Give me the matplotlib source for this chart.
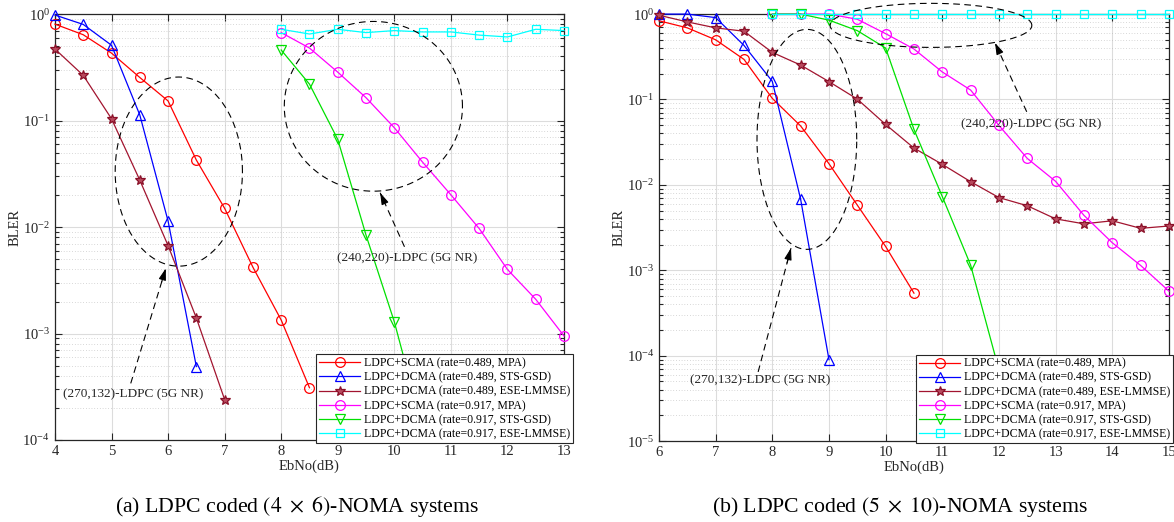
import numpy as np
import matplotlib
matplotlib.use('Agg')
import matplotlib.pyplot as plt
from matplotlib.ticker import LogLocator, NullFormatter

plt.rcParams['font.family'] = ['Liberation Serif', 'DejaVu Serif']
plt.rcParams['mathtext.fontset'] = 'stix'

labels = ['LDPC+SCMA (rate=0.489, MPA)',
          'LDPC+DCMA (rate=0.489, STS-GSD)',
          'LDPC+DCMA (rate=0.489, ESE-LMMSE)',
          'LDPC+SCMA (rate=0.917, MPA)',
          'LDPC+DCMA (rate=0.917, STS-GSD)',
          'LDPC+DCMA (rate=0.917, ESE-LMMSE)']

# (a) 4x6 system
a_x_scma1 = [4, 4.5, 5, 5.5, 6, 6.5, 7, 7.5, 8, 8.5]
a_y_scma1 = [0.805, 0.64, 0.43, 0.254, 0.153, 0.0426, 0.015, 0.0042, 0.00134, 0.00031]
a_x_sts1 = [4, 4.5, 5, 5.5, 6, 6.5]
a_y_sts1 = [0.98, 0.80, 0.51, 0.113, 0.0114, 0.00049]
a_x_ese1 = [4, 4.5, 5, 5.5, 6, 6.5, 7]
a_y_ese1 = [0.47, 0.266, 0.104, 0.0276, 0.0067, 0.0014, 0.00024]
a_x_scma2 = [8, 8.5, 9, 9.5, 10, 10.5, 11, 11.5, 12, 12.5, 13]
a_y_scma2 = [0.67, 0.48, 0.285, 0.164, 0.0857, 0.0407, 0.0201, 0.0097, 0.0040, 0.0021, 0.00095]
a_x_sts2 = [8, 8.5, 9, 9.5, 10, 10.5]
a_y_sts2 = [0.46, 0.22, 0.0666, 0.0084, 0.00129, 0.00013]
a_x_ese2 = [8, 8.5, 9, 9.5, 10, 10.5, 11, 11.5, 12, 12.5, 13]
a_y_ese2 = [0.72, 0.65, 0.72, 0.67, 0.70, 0.68, 0.68, 0.635, 0.61, 0.72, 0.70]

# (b) 5x10 system
b_x_scma1 = [6, 6.5, 7, 7.5, 8, 8.5, 9, 9.5, 10, 10.5]
b_y_scma1 = [0.835, 0.69, 0.50, 0.295, 0.103, 0.049, 0.0177, 0.0058, 0.0019, 0.00054]
b_x_sts1 = [6, 6.5, 7, 7.5, 8, 8.5, 9]
b_y_sts1 = [1.0, 1.0, 0.91, 0.43, 0.163, 0.0068, 0.00009]
b_x_ese1 = [6, 6.5, 7, 7.5, 8, 8.5, 9, 9.5, 10, 10.5, 11, 11.5, 12, 12.5, 13, 13.5, 14, 14.5, 15]
b_y_ese1 = [0.97, 0.81, 0.69, 0.63, 0.356, 0.253, 0.162, 0.101, 0.051, 0.027, 0.0174, 0.0109,
            0.0071, 0.0057, 0.0040, 0.0035, 0.0038, 0.0031, 0.0033]
b_x_scma2 = [8, 8.5, 9, 9.5, 10, 10.5, 11, 11.5, 12, 12.5, 13, 13.5, 14, 14.5, 15]
b_y_scma2 = [1.0, 1.0, 1.0, 0.87, 0.59, 0.39, 0.21, 0.129, 0.0497, 0.0204, 0.011, 0.0044,
             0.0021, 0.00114, 0.00057]
b_x_sts2 = [8, 8.5, 9, 9.5, 10, 10.5, 11, 11.5, 12]
b_y_sts2 = [1.0, 1.0, 0.85, 0.64, 0.40, 0.0446, 0.0073, 0.00115, 0.000068]
b_x_ese2 = [8, 8.5, 9, 9.5, 10, 10.5, 11, 11.5, 12, 12.5, 13, 13.5, 14, 14.5, 15]
b_y_ese2 = [1.0] * 15

styles = [dict(color='#FF0000', marker='o', mfc='none'),
          dict(color='#0000FF', marker='^', mfc='none'),
          dict(color='#A2142F', marker='*', mfc='#B84A5E', mec='#8A1028'),
          dict(color='#FF00FF', marker='o', mfc='none'),
          dict(color='#00E000', marker='v', mfc='none'),
          dict(color='#00FFFF', marker='s', mfc='none', ms=5.5)]


def ellipse(ax, cx, cly, a, b):
    t = np.linspace(0, 2 * np.pi, 300)
    ax.plot(cx + a * np.cos(t), 10 ** (cly + b * np.sin(t)), color='k', lw=0.8,
            dashes=(6, 4), clip_on=False, zorder=5)


def arrow(ax, tail, head, text, text_pos):
    tx, tly = tail
    hx, hly = head
    ax.plot([tx, hx], [10 ** tly, 10 ** hly], color='k', lw=0.8, dashes=(6, 4), zorder=5)
    nx = hx + 0.12 * (tx - hx)
    nly = hly + 0.12 * (tly - hly)
    ax.annotate('', xy=(hx, 10 ** hly), xytext=(nx, 10 ** nly),
                arrowprops=dict(arrowstyle='-|>,head_length=0.7,head_width=0.22',
                                color='k', lw=0.8, shrinkA=0, shrinkB=0), zorder=6)
    ax.text(text_pos[0], 10 ** text_pos[1], text, ha='center', va='center',
            fontsize=9.5, color='#262626', zorder=6)


def style_axes(ax, xlim, ylim, xticks):
    ax.set_yscale('log')
    ax.set_xlim(xlim)
    ax.set_ylim(ylim)
    ax.set_xticks(xticks)
    ax.yaxis.set_major_locator(LogLocator(base=10, numticks=10))
    ax.yaxis.set_minor_locator(LogLocator(base=10, subs=np.arange(2, 10), numticks=100))
    ax.yaxis.set_minor_formatter(NullFormatter())
    ax.grid(True, which='major', color='#DCDCDC', lw=0.8)
    ax.grid(True, which='minor', axis='y', color='#B4B4B4', lw=0.5, linestyle=(0, (1, 3)))
    ax.set_axisbelow(True)
    ax.tick_params(which='both', direction='in', top=True, right=True, labelsize=10.5,
                   colors='#262626', width=0.8)
    ax.tick_params(which='major', length=5)
    ax.tick_params(which='minor', length=3)
    for s in ax.spines.values():
        s.set_color('#262626')
        s.set_linewidth(0.9)
    ax.set_xlabel('EbNo(dB)', fontsize=10.5, color='#262626', labelpad=1)
    ax.set_ylabel('BLER', fontsize=10.5, color='#262626', labelpad=1)


fig = plt.figure(figsize=(11.74, 5.22), dpi=100)
ax1 = fig.add_axes([0.0468, 0.157, 0.4336, 0.816])
ax2 = fig.add_axes([0.5613, 0.155, 0.4344, 0.818])

a_data = [(a_x_scma1, a_y_scma1), (a_x_sts1, a_y_sts1), (a_x_ese1, a_y_ese1),
          (a_x_scma2, a_y_scma2), (a_x_sts2, a_y_sts2), (a_x_ese2, a_y_ese2)]
b_data = [(b_x_scma1, b_y_scma1), (b_x_sts1, b_y_sts1), (b_x_ese1, b_y_ese1),
          (b_x_scma2, b_y_scma2), (b_x_sts2, b_y_sts2), (b_x_ese2, b_y_ese2)]

for ax, data in [(ax1, a_data), (ax2, b_data)]:
    for (x, y), st, lab in zip(data, styles, labels):
        st = dict(st)
        ms = st.pop('ms', 7)
        ax.plot(x, y, lw=0.9, ms=ms, mew=0.9, label=lab, clip_on=False, zorder=3, **st)

style_axes(ax1, (4, 13), (1e-4, 1), np.arange(4, 14))
style_axes(ax2, (6, 15), (1e-5, 1), np.arange(6, 16))

ellipse(ax1, 6.19, -1.479, 1.125, 0.888)
arrow(ax1, (5.34, -3.468), (5.96, -2.388), '(270,132)-LDPC (5G NR)', (5.38, -3.57))
ellipse(ax1, 9.63, -0.866, 1.575, 0.797)
arrow(ax1, (10.18, -2.185), (9.75, -1.678), '(240,220)-LDPC (5G NR)', (10.22, -2.29))

ellipse(ax2, 8.61, -1.467, 0.88, 1.288)
arrow(ax2, (7.75, -4.19), (8.33, -2.74), '(270,132)-LDPC (5G NR)', (7.79, -4.29))
ellipse(ax2, 10.8, -0.132, 1.78, 0.258)
arrow(ax2, (12.49, -1.144), (11.93, -0.336), '(240,220)-LDPC (5G NR)', (12.56, -1.29))

for ax, anchor in [(ax1, (1.018, -0.007)), (ax2, (1.008, -0.005))]:
    leg = ax.legend(loc='lower right', bbox_to_anchor=anchor, fontsize=8.5, fancybox=False,
                    framealpha=1, edgecolor='#262626', borderpad=0.25, labelspacing=0.18,
                    handlelength=3.5, handletextpad=0.3, borderaxespad=0)
    leg.get_frame().set_linewidth(0.8)
    leg.set_zorder(10)

fig.text(0.253, 0.029, r'(a) LDPC coded $(4\ \times\ 6)$-NOMA systems', ha='center',
         va='center', fontsize=15.7)
fig.text(0.767, 0.029, r'(b) LDPC coded $(5\ \times\ 10)$-NOMA systems', ha='center',
         va='center', fontsize=15.7)

fig.savefig('out.png', dpi=100)
